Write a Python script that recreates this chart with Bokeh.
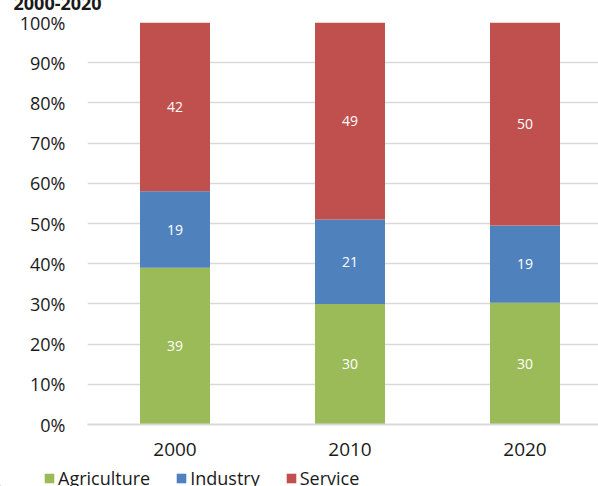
from bokeh.plotting import figure
from bokeh.layouts import column
from bokeh.models import (ColumnDataSource, Range1d, FixedTicker, NumeralTickFormatter,
                          Legend, LegendItem)
from bokeh.core.properties import value
from bokeh.embed import file_html
from bokeh.resources import INLINE

years = ["2000", "2010", "2020"]
agriculture = [39, 30, 30]
industry = [19, 21, 19]
service = [42, 49, 50]
series_names = ["Agriculture", "Industry", "Service"]
colors = ["#9BBB59", "#4F81BD", "#C0504D"]
y_ticks = [0.0, 0.1, 0.2, 0.3, 0.4, 0.5, 0.6, 0.7, 0.8, 0.9, 1.0]
title_text = "2000-2020"

FONT = "Open Sans"
W = 598
LEG_H = 20
MAIN_H = 486 - LEG_H
H_OFF = 30  # top of the chart canvas is shifted out of view so the title is mostly cut off

xpos = [i + 0.5 for i in range(len(years))]
totals = [a + b + c for a, b, c in zip(agriculture, industry, service)]
fa = [a / t for a, t in zip(agriculture, totals)]
fi = [b / t for b, t in zip(industry, totals)]
fs = [c / t for c, t in zip(service, totals)]

src = ColumnDataSource(dict(x=xpos, Agriculture=fa, Industry=fi, Service=fs))

# main chart
p = figure(width=W, height=MAIN_H + H_OFF, output_backend="svg", toolbar_location=None,
           x_range=Range1d(0, 511 / 175), y_range=Range1d(0, 1),
           min_border_left=87, min_border_right=0, min_border_top=22 + H_OFF,
           min_border_bottom=MAIN_H - 424)
p.styles = {"margin-top": f"-{H_OFF}px"}
p.outline_line_color = None
p.background_fill_color = "white"
p.border_fill_color = "white"

p.title.text = title_text
p.title.text_font = FONT
p.title.text_font_size = "18px"
p.title.text_font_style = "bold"
p.title.text_color = "#1a1a1a"
p.title.align = "left"
p.title.offset = -74
p.title.vertical_align = "top"
p.title.standoff = 22

p.vbar_stack(series_names, x="x", width=0.4, color=colors, source=src, line_color=None)

# value labels
lx, ly, lt = [], [], []
for i in range(len(years)):
    base = 0.0
    for frac, raw in ((fa[i], agriculture[i]), (fi[i], industry[i]), (fs[i], service[i])):
        lx.append(xpos[i])
        ly.append(base + frac / 2)
        lt.append(str(raw))
        base += frac
p.text(x=lx, y=ly, text=lt, text_color="white", text_font=value(FONT),
       text_font_size="14px", text_align="center", text_baseline="middle")

p.yaxis.ticker = FixedTicker(ticks=y_ticks)
p.yaxis.formatter = NumeralTickFormatter(format="0%")
p.yaxis.axis_line_color = None
p.yaxis.major_tick_line_color = None
p.yaxis.minor_tick_line_color = None
p.yaxis.major_label_text_font = FONT
p.yaxis.major_label_text_font_size = "18px"
p.yaxis.major_label_text_color = "#1a1a1a"
p.yaxis.major_label_standoff = 16

p.xaxis.ticker = FixedTicker(ticks=xpos)
p.xaxis.major_label_overrides = {x: y for x, y in zip(xpos, years)}
p.xaxis.axis_line_color = "#d9d9d9"
p.xaxis.axis_line_width = 2
p.xaxis.major_tick_line_color = None
p.xaxis.minor_tick_line_color = None
p.xaxis.major_label_text_font = FONT
p.xaxis.major_label_text_font_size = "19px"
p.xaxis.major_label_text_color = "#1a1a1a"
p.xaxis.major_label_standoff = 12

p.xgrid.grid_line_color = None
p.ygrid.ticker = FixedTicker(ticks=y_ticks)
p.ygrid.grid_line_color = "#d9d9d9"
p.ygrid.grid_line_width = 1.5

# legend strip (swatches come from off-range bars so only the legend shows)
pl = figure(width=W, height=LEG_H, output_backend="svg", toolbar_location=None,
            x_range=Range1d(0, W), y_range=Range1d(0, LEG_H), min_border=0,
            x_axis_location=None, y_axis_location=None)
pl.grid.visible = False
pl.outline_line_color = None
pl.background_fill_color = "white"
pl.border_fill_color = "white"
leg_renderers = [pl.vbar(x=[-1000], top=[1], width=1, color=c, line_color=None) for c in colors]
legend = Legend(items=[LegendItem(label=n, renderers=[r]) for n, r in zip(series_names, leg_renderers)],
                orientation="horizontal", location=(43, -4),
                glyph_width=12, glyph_height=12, label_standoff=3, spacing=25,
                padding=0, margin=0, border_line_color=None, background_fill_alpha=0,
                label_text_font=FONT, label_text_font_size="18px", label_text_color="#1a1a1a")
pl.add_layout(legend, "center")

layout = column(column(p), pl)
open("out.html", "w").write(file_html(layout, INLINE))
